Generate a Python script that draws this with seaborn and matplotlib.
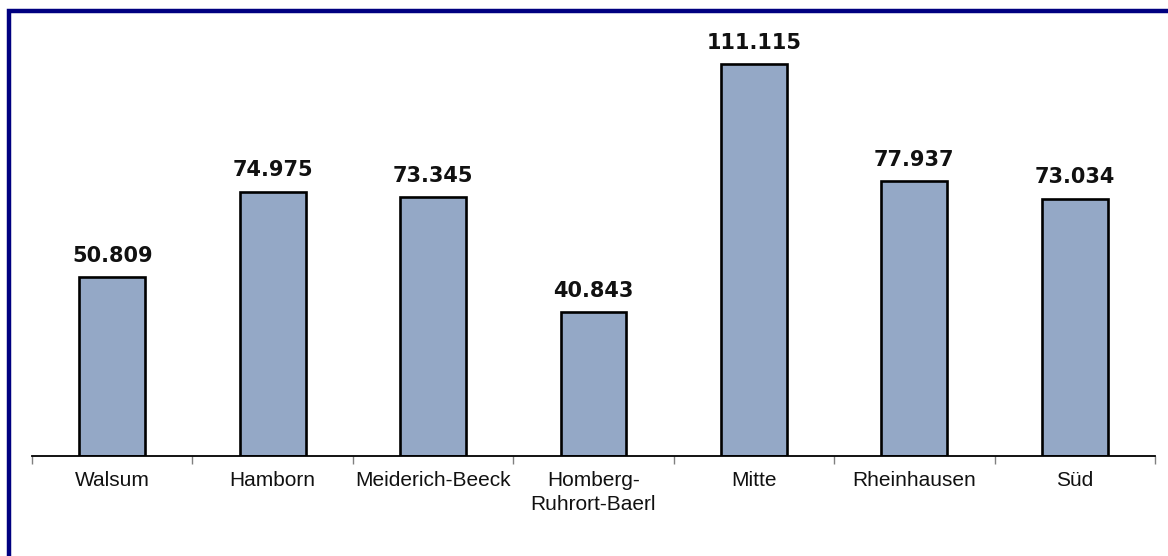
import matplotlib
matplotlib.use("Agg")
import matplotlib.pyplot as plt
from matplotlib.patches import Rectangle
import seaborn as sns
import pandas as pd

# Einwohner je Stadtbezirk
bezirke = ["Walsum", "Hamborn", "Meiderich-Beeck", "Homberg-\nRuhrort-Baerl",
           "Mitte", "Rheinhausen", "Süd"]
einwohner = [50809, 74975, 73345, 40843, 111115, 77937, 73034]

df = pd.DataFrame({"Bezirk": bezirke, "Einwohner": einwohner})

sns.set_theme(style="white")
plt.rcParams["font.family"] = ["Liberation Sans", "DejaVu Sans"]

W, H = 1168, 556
fig = plt.figure(figsize=(W / 100, H / 100), dpi=100)
fig.patch.set_facecolor("white")

# axes placed in pixel terms of the figure
left, right, bottom, top = 32, 1155, 456, 33
ax = fig.add_axes([left / W, 1 - bottom / H, (right - left) / W, (bottom - top) / H])

sns.barplot(data=df, x="Bezirk", y="Einwohner", ax=ax, color="#94A8C6",
            edgecolor="black", linewidth=1.9, width=0.41, saturation=1)

ax.set_ylim(0, 120000)
ax.set_xlim(-0.5, len(bezirke) - 0.5)
ax.set_xlabel("")
ax.set_ylabel("")
ax.set_yticks([])

for s in ("left", "top", "right"):
    ax.spines[s].set_visible(False)
ax.spines["bottom"].set_color("black")
ax.spines["bottom"].set_linewidth(1.3)

ax.set_xticks(range(len(bezirke)))
ax.set_xticklabels(bezirke, fontsize=15, color="#111111", linespacing=1.3)
ax.tick_params(axis="x", which="major", length=0, pad=11)
ax.set_xticks([i - 0.5 for i in range(len(bezirke) + 1)], minor=True)
ax.tick_params(axis="x", which="minor", length=6, width=1, color="#808080", bottom=True)

def fmt(v):
    return f"{v:,}".replace(",", ".")

for i, v in enumerate(einwohner):
    ax.annotate(fmt(v), xy=(i, v), xytext=(0, 11), textcoords="offset points",
                ha="center", va="baseline", fontsize=15, fontweight="bold",
                family="DejaVu Sans", color="#111111")

# dark blue frame around the chart area
frame = Rectangle((9 / W, -0.2), 1.5, 1 - 11 / H + 0.2, transform=fig.transFigure,
                  fill=False, edgecolor="#000080", linewidth=3.2, clip_on=False)
fig.patches.append(frame)

fig.savefig("out.png", dpi=100, facecolor="white")
